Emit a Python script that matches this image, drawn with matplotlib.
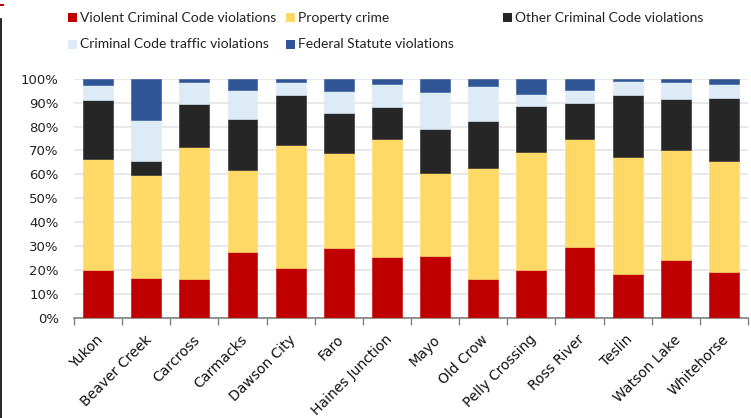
import matplotlib
matplotlib.use("Agg")
import matplotlib.pyplot as plt
from matplotlib.patches import Rectangle
from matplotlib.lines import Line2D
import matplotlib.transforms as mtransforms
import numpy as np

categories = ["Yukon", "Beaver Creek", "Carcross", "Carmacks", "Dawson City", "Faro",
              "Haines Junction", "Mayo", "Old Crow", "Pelly Crossing", "Ross River",
              "Teslin", "Watson Lake", "Whitehorse"]
series_names = ["Violent Criminal Code violations", "Property crime",
                "Other Criminal Code violations", "Criminal Code traffic violations",
                "Federal Statute violations"]
violent = [20.2, 16.8, 16.3, 27.4, 20.7, 29.2, 25.6, 25.7, 16.3, 20.2, 29.5, 18.2, 24.2, 19.1]
property_crime = [46.3, 43.0, 55.2, 34.5, 51.8, 39.9, 49.4, 34.8, 46.3, 49.2, 45.2, 49.1, 46.2, 46.4]
other = [24.5, 5.7, 18.1, 21.3, 20.8, 16.7, 13.3, 18.6, 19.7, 19.3, 15.3, 26.0, 21.3, 26.6]
traffic = [6.5, 17.3, 8.9, 11.9, 5.2, 8.9, 9.3, 15.2, 14.5, 4.9, 5.4, 5.7, 6.8, 5.8]
federal = [2.5, 17.2, 1.5, 4.9, 1.5, 5.3, 2.4, 5.7, 3.2, 6.4, 4.6, 1.0, 1.5, 2.1]
yticks = [0, 10, 20, 30, 40, 50, 60, 70, 80, 90, 100]
ytick_labels = ["0%", "10%", "20%", "30%", "40%", "50%", "60%", "70%", "80%", "90%", "100%"]

colors = ["#C00000", "#FFD966", "#262626", "#DDEBF7", "#2F5597"]
series = [violent, property_crime, other, traffic, federal]

W, H = 751, 418
fig = plt.figure(figsize=(W / 100, H / 100), dpi=100)
ax = fig.add_axes([74 / W, 1 - 318 / H, (748 - 74) / W, (318 - 78.7) / H])

x = np.arange(len(categories))
bottom = np.zeros(len(categories))
for vals, col, name in zip(series, colors, series_names):
    ax.bar(x, vals, bottom=bottom, width=0.62, color=col, edgecolor=col,
           linewidth=0.4, label=name, zorder=3)
    bottom += np.array(vals)

ax.set_xlim(-0.5, len(categories) - 0.5)
ax.set_ylim(0, 100)
ax.set_yticks(yticks)
ax.set_yticklabels(ytick_labels, fontsize=9.5, color="#222222", family="DejaVu Sans")
ax.tick_params(axis="y", length=0, pad=11)
ax.yaxis.grid(True, color="#E6E6E6", linewidth=1.3, zorder=0)
ax.set_axisbelow(True)

ax.set_xticks(x)
ax.set_xticklabels(categories, rotation=45, ha="right", va="center",
                   rotation_mode="anchor", fontsize=10, color="#111111",
                   family="DejaVu Sans")
ax.tick_params(axis="x", length=0, pad=14)
offset = mtransforms.ScaledTranslation(3 / 100, 0, fig.dpi_scale_trans)
for lab in ax.get_xticklabels():
    lab.set_transform(lab.get_transform() + offset)
ax.set_xticks(np.arange(-0.5, len(categories), 1.0), minor=True)
ax.tick_params(axis="x", which="minor", length=5, color="#808080", width=1)

for s in ["top", "right", "left"]:
    ax.spines[s].set_visible(False)
ax.spines["bottom"].set_color("#808080")
ax.spines["bottom"].set_linewidth(1.2)

# legend placed manually in a 3-column grid
leg_pos = [(68, 17.5), (286, 17.5), (503, 17.5), (68, 44.5), (286, 44.5)]
for (lx, ly), col, name in zip(leg_pos, colors, series_names):
    fig.patches.append(Rectangle((lx / W, 1 - (ly + 4.2) / H), 9 / W, 8.5 / H,
                                 transform=fig.transFigure, facecolor=col,
                                 edgecolor="none"))
    fig.text((lx + 12) / W, 1 - ly / H, name, fontsize=10,
             family=["Lato", "DejaVu Sans"], color="#222222", va="center", ha="left")

# left border artifact
fig.lines.append(Line2D([1 / W, 1 / W], [1 - 19 / H, 0], transform=fig.transFigure,
                        color="black", linewidth=1.2))
fig.lines.append(Line2D([0, 3 / W], [1 - 5 / H, 1 - 5 / H], transform=fig.transFigure,
                        color="#C00000", linewidth=1.5))

fig.savefig("out.png", dpi=100)
